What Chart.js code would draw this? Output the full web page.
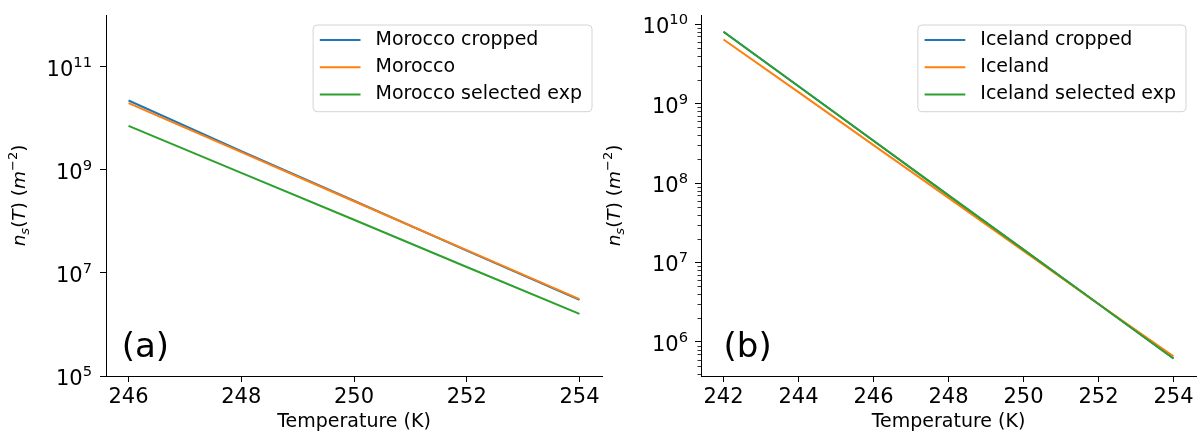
<!DOCTYPE html>
<html>
<head>
<meta charset="utf-8">
<script src="https://cdn.jsdelivr.net/npm/chart.js@4.4.1/dist/chart.umd.min.js"></script>
<style>
  html, body { margin: 0; padding: 0; background: #fff; }
  #wrap { position: relative; width: 1200px; height: 433px; }
  .panel { position: absolute; top: 0; height: 433px; }
  #panel-a { left: 0; width: 610px; }
  #panel-b { left: 600px; width: 600px; }
</style>
</head>
<body>
<div id="wrap">
  <div class="panel" id="panel-a"><canvas id="chart-a"></canvas></div>
  <div class="panel" id="panel-b"><canvas id="chart-b"></canvas></div>
</div>
<script>
// values, temperatures in K, n_s in m^-2
const moroccoTemps = [246, 248, 250, 252, 254];
const moroccoCropped = [2.2e10, 2.3e9, 2.5e8, 2.7e7, 3.0e6];
const moroccoFull = [1.95e10, 2.2e9, 2.45e8, 2.75e7, 3.1e6];
const moroccoSelected = [7.1e9, 8.7e8, 1.07e8, 1.3e7, 1.6e6];

const icelandTemps = [242, 244, 246, 248, 250, 252, 254];
const icelandCropped = [8.0e9, 1.65e9, 3.4e8, 7.0e7, 1.45e7, 3.0e6, 6.2e5];
const icelandFull = [6.4e9, 1.39e9, 3.0e8, 6.5e7, 1.4e7, 3.0e6, 6.6e5];
const icelandSelected = [8.0e9, 1.65e9, 3.4e8, 7.0e7, 1.45e7, 3.0e6, 6.2e5];

const moroccoXTicks = [246, 248, 250, 252, 254];
const icelandXTicks = [242, 244, 246, 248, 250, 252, 254];
const moroccoYTicks = [1e5, 1e7, 1e9, 1e11];
const icelandYTicks = [1e6, 1e7, 1e8, 1e9, 1e10];

const FONT = '"DejaVu Sans", sans-serif';
const BLUE = '#1f77b4';
const ORANGE = '#ff7f0e';
const GREEN = '#2ca02c';

function toPoints(temps, values) {
  return temps.map((t, i) => ({ x: t, y: values[i] }));
}

function drawPower(ctx, exponent, xRight, y) {
  ctx.font = `21px ${FONT}`;
  const baseWidth = ctx.measureText('10').width;
  ctx.font = `14.7px ${FONT}`;
  const expWidth = ctx.measureText(String(exponent)).width;
  const left = xRight - baseWidth - expWidth;
  ctx.textAlign = 'left';
  ctx.textBaseline = 'alphabetic';
  ctx.font = `21px ${FONT}`;
  ctx.fillText('10', left, y + 9);
  ctx.font = `14.7px ${FONT}`;
  ctx.fillText(String(exponent), left + baseWidth, y);
}

function drawYTitle(ctx, x, yCenter) {
  const big = 18.5;
  const small = 13;
  const pieces = [
    ['n', `italic ${big}px ${FONT}`, 0],
    ['s', `italic ${small}px ${FONT}`, 4],
    ['(', `${big}px ${FONT}`, 0],
    ['T', `italic ${big}px ${FONT}`, 0],
    [')', `${big}px ${FONT}`, 0],
    [' ', `${big}px ${FONT}`, 0],
    ['(', `${big}px ${FONT}`, 0],
    ['m', `italic ${big}px ${FONT}`, 0],
    ['\u2212', `${small}px ${FONT}`, -8],
    ['2', `${small}px ${FONT}`, -8],
    [')', `${big}px ${FONT}`, 0],
  ];
  let total = 0;
  const widths = pieces.map(([text, font]) => {
    ctx.font = font;
    const w = ctx.measureText(text).width;
    total += w;
    return w;
  });
  ctx.save();
  ctx.translate(x, yCenter);
  ctx.rotate(-Math.PI / 2);
  ctx.textAlign = 'left';
  ctx.textBaseline = 'alphabetic';
  let cursor = -total / 2;
  pieces.forEach(([text, font, dy], i) => {
    ctx.font = font;
    ctx.fillText(text, cursor, dy);
    cursor += widths[i];
  });
  ctx.restore();
}

function drawLegend(ctx, chart) {
  const area = chart.chartArea;
  const datasets = chart.data.datasets;
  ctx.font = `19px ${FONT}`;
  const textWidth = Math.max(...datasets.map((ds) => ctx.measureText(ds.label).width));
  const width = 62.4 + textWidth + 10;
  const height = 86.7;
  const right = area.right - 10;
  const left = right - width;
  const top = area.top + 10;

  ctx.save();
  ctx.beginPath();
  ctx.roundRect(left, top, width, height, 4);
  ctx.fillStyle = 'rgba(255,255,255,0.8)';
  ctx.fill();
  ctx.strokeStyle = '#d4d4d4';
  ctx.lineWidth = 1;
  ctx.stroke();

  datasets.forEach((ds, i) => {
    const rowY = top + 15 + i * 27.2;
    ctx.beginPath();
    ctx.moveTo(left + 6.7, rowY);
    ctx.lineTo(left + 47.4, rowY);
    ctx.strokeStyle = ds.borderColor;
    ctx.lineWidth = 2;
    ctx.stroke();
    ctx.fillStyle = '#000';
    ctx.font = `19px ${FONT}`;
    ctx.textAlign = 'left';
    ctx.textBaseline = 'middle';
    ctx.fillText(ds.label, left + 62.4, rowY);
  });
  ctx.restore();
}

const decorations = {
  id: 'decorations',
  afterDraw(chart, args, opts) {
    const { ctx, chartArea } = chart;
    const yScale = chart.scales.y;
    ctx.save();
    ctx.fillStyle = '#000';

    if (opts.minorTicks) {
      ctx.strokeStyle = '#000';
      ctx.lineWidth = 0.8;
      for (let d = 4; d <= 11; d++) {
        for (let k = 2; k <= 9; k++) {
          const v = k * Math.pow(10, d);
          if (v < yScale.min || v > yScale.max) continue;
          const y = Math.round(yScale.getPixelForValue(v)) + 0.5;
          ctx.beginPath();
          ctx.moveTo(chartArea.left, y);
          ctx.lineTo(chartArea.left - 3.5, y);
          ctx.stroke();
        }
      }
    }

    opts.yTicks.forEach((v) => {
      const y = yScale.getPixelForValue(v);
      drawPower(ctx, Math.round(Math.log10(v)), chartArea.left - opts.labelGap, y);
    });

    drawYTitle(ctx, chartArea.left - opts.titleOffset, (chartArea.top + chartArea.bottom) / 2);

    ctx.font = `34px ${FONT}`;
    ctx.textAlign = 'left';
    ctx.textBaseline = 'alphabetic';
    ctx.fillText(opts.letter, chartArea.left + opts.letterDx, chartArea.bottom - 19);

    drawLegend(ctx, chart);
    ctx.restore();
  },
};

function buildChart(canvasId, cfg) {
  return new Chart(document.getElementById(canvasId), {
    type: 'line',
    data: {
      datasets: [
        { label: cfg.labels[0], data: toPoints(cfg.temps, cfg.series[0]), borderColor: BLUE, order: 2 },
        { label: cfg.labels[1], data: toPoints(cfg.temps, cfg.series[1]), borderColor: ORANGE, order: 1 },
        { label: cfg.labels[2], data: toPoints(cfg.temps, cfg.series[2]), borderColor: GREEN, order: 0 },
      ],
    },
    options: {
      responsive: true,
      maintainAspectRatio: false,
      animation: false,
      layout: { padding: { left: 0, right: cfg.padRight, top: 15, bottom: 0 } },
      elements: {
        line: { borderWidth: 2, tension: 0, fill: false },
        point: { radius: 0, hoverRadius: 0 },
      },
      plugins: {
        legend: { display: false },
        tooltip: { enabled: false },
        decorations: {
          yTicks: cfg.yTicks,
          minorTicks: cfg.minorTicks,
          letter: cfg.letter,
          letterDx: cfg.letterDx,
          labelGap: cfg.labelGap,
          titleOffset: cfg.titleOffset,
        },
      },
      scales: {
        x: {
          type: 'linear',
          min: cfg.xMin,
          max: cfg.xMax,
          afterBuildTicks: (scale) => {
            scale.ticks = cfg.xTicks.map((value) => ({ value }));
          },
          afterFit: (scale) => {
            scale.height = 57;
          },
          grid: { drawOnChartArea: false, drawTicks: true, tickLength: 6, color: '#000', lineWidth: 1 },
          border: { display: true, color: '#000', width: 1 },
          ticks: {
            font: { family: 'DejaVu Sans', size: 21 },
            color: '#000',
            padding: 3,
            maxRotation: 0,
            autoSkip: false,
            callback: (value) => String(value),
          },
          title: {
            display: true,
            text: 'Temperature (K)',
            font: { family: 'DejaVu Sans', size: 19 },
            color: '#000',
            padding: { top: 0, bottom: 0 },
          },
        },
        y: {
          type: 'logarithmic',
          min: cfg.yMin,
          max: cfg.yMax,
          afterBuildTicks: (scale) => {
            scale.ticks = cfg.yTicks.map((value) => ({ value }));
          },
          afterFit: (scale) => {
            scale.width = cfg.yWidth;
          },
          grid: { drawOnChartArea: false, drawTicks: true, tickLength: 6, color: '#000', lineWidth: 1 },
          border: { display: true, color: '#000', width: 1 },
          ticks: { display: true, callback: () => '' },
        },
      },
    },
    plugins: [decorations],
  });
}

buildChart('chart-a', {
  temps: moroccoTemps,
  series: [moroccoCropped, moroccoFull, moroccoSelected],
  labels: ['Morocco cropped', 'Morocco', 'Morocco selected exp'],
  xTicks: moroccoXTicks,
  yTicks: moroccoYTicks,
  xMin: 245.6,
  xMax: 254.4,
  yMin: 1e5,
  yMax: 1e12,
  yWidth: 106,
  padRight: 8,
  minorTicks: false,
  letter: '(a)',
  letterDx: 15.7,
  labelGap: 14,
  titleOffset: 81,
});

buildChart('chart-b', {
  temps: icelandTemps,
  series: [icelandCropped, icelandFull, icelandSelected],
  labels: ['Iceland cropped', 'Iceland', 'Iceland selected exp'],
  xTicks: icelandXTicks,
  yTicks: icelandYTicks,
  xMin: 241.4,
  xMax: 254.6,
  yMin: 3.73e5,
  yMax: 1.3e10,
  yWidth: 101,
  padRight: 4,
  minorTicks: true,
  letter: '(b)',
  letterDx: 22.6,
  labelGap: 13,
  titleOffset: 81,
});
</script>
</body>
</html>
